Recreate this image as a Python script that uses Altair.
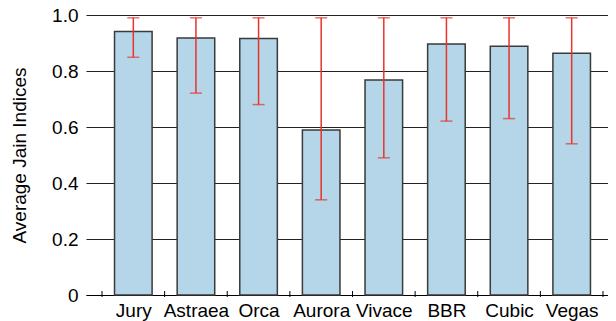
import altair as alt
import pandas as pd

# ---- data ----
names = ["Jury", "Astraea", "Orca", "Aurora", "Vivace", "BBR", "Cubic", "Vegas"]
means = [0.941, 0.918, 0.916, 0.589, 0.768, 0.896, 0.888, 0.863]
err_low = [0.849, 0.721, 0.680, 0.340, 0.490, 0.621, 0.630, 0.540]
err_high = [0.990, 0.990, 0.990, 0.990, 0.990, 0.990, 0.990, 0.990]
y_ticks = [0, 0.2, 0.4, 0.6, 0.8, 1.0]
boundaries = [-0.5, 0.5, 1.5, 2.5, 3.5, 4.5, 5.5, 6.5, 7.5]

positions = list(range(len(names)))
df = pd.DataFrame({
    "pos": positions,
    "name": names,
    "mean": means,
    "low": err_low,
    "high": err_high,
})
df["left"] = df["pos"] - 0.3
df["right"] = df["pos"] + 0.3
bdf = pd.DataFrame({"b": boundaries, "zero": [0] * len(boundaries)})

FONT = "Liberation Sans"
FS = 19

xscale = alt.Scale(domain=[-0.7555, 7.58], nice=False, zero=False)
yscale = alt.Scale(domain=[0, 1], nice=False)

label_array = "[" + ",".join("'" + n + "'" for n in names) + "]"

x_axis = alt.Axis(
    values=positions,
    labelExpr=label_array + "[datum.value]",
    tickSize=0,
    labelPadding=6,
    labelFontSize=FS,
    labelFont=FONT,
    labelColor="#000",
    labelFlush=False,
    labelOverlap=False,
    domainColor="#000",
    domainWidth=1,
    grid=False,
    title=None,
)
y_axis = alt.Axis(
    values=y_ticks,
    labelExpr="datum.value == 0 ? '0' : format(datum.value, '.1f')",
    grid=True,
    gridColor="#222",
    gridWidth=1,
    ticks=False,
    domain=False,
    labelPadding=8,
    labelFontSize=FS,
    labelFont=FONT,
    labelColor="#000",
    title="Average Jain Indices",
    titleFontSize=FS,
    titleFont=FONT,
    titleFontWeight="normal",
    titleColor="#000",
    titlePadding=22,
)

base = alt.Chart(df)

bars = base.mark_bar(fill="#b4d6e8", stroke="#3a3a3a", strokeWidth=1.5).encode(
    x=alt.X("left:Q", scale=xscale, axis=x_axis),
    x2="right:Q",
    y=alt.Y("mean:Q", scale=yscale, axis=y_axis),
    y2=alt.datum(0),
)

err = base.mark_rule(color="#e8322a", strokeWidth=1.5).encode(
    x=alt.X("pos:Q", scale=xscale, axis=x_axis),
    y=alt.Y("low:Q", scale=yscale, axis=y_axis),
    y2="high:Q",
)
cap_low = base.mark_tick(color="#e8322a", orient="horizontal", size=12, thickness=1.5).encode(
    x=alt.X("pos:Q", scale=xscale, axis=x_axis),
    y=alt.Y("low:Q", scale=yscale, axis=y_axis),
)
cap_high = base.mark_tick(color="#e8322a", orient="horizontal", size=12, thickness=1.5).encode(
    x=alt.X("pos:Q", scale=xscale, axis=x_axis),
    y=alt.Y("high:Q", scale=yscale, axis=y_axis),
)

ticks = alt.Chart(bdf).mark_rule(color="#000", strokeWidth=1, yOffset=-4, y2Offset=2).encode(
    x=alt.X("b:Q", scale=xscale, axis=x_axis),
    y=alt.Y("zero:Q", scale=yscale, axis=y_axis),
    y2="zero:Q",
)

chart = alt.layer(bars, ticks, err, cap_low, cap_high).properties(
    width=522,
    height=280,
    autosize=alt.AutoSizeParams(type="none"),
    padding={"left": 78, "top": 7, "right": 0, "bottom": 26},
    background="white",
).configure_view(stroke=None)

chart.save("out.html", embed_options={"renderer": "svg", "actions": False})
